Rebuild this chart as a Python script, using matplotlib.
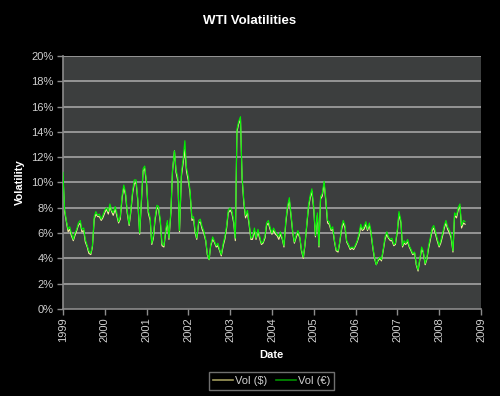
import pandas as pd
import matplotlib
matplotlib.use("Agg")
import matplotlib.pyplot as plt
import matplotlib.dates as mdates
from matplotlib.lines import Line2D
from matplotlib.ticker import FuncFormatter, MultipleLocator

plt.rcParams["font.family"] = ["Liberation Sans", "DejaVu Sans"]

# Volatilidade semi-mensal (%), por ano: Vol (EUR) e Vol (USD)
eur_1999 = [10.8, 7.9, 6.9, 6.3, 6.5, 6.0, 5.5, 6.0, 6.3, 6.8, 7.0, 6.3, 6.4, 5.5, 5.0, 4.6, 4.4, 5.0, 7.3, 7.7, 7.4, 7.5, 7.1, 7.4]
eur_2000 = [7.8, 8.0, 7.7, 8.3, 7.8, 7.6, 8.1, 7.6, 6.9, 7.3, 9.0, 9.8, 9.2, 7.8, 6.7, 7.8, 9.4, 10.2, 10.2, 8.8, 6.0, 8.5, 11.1, 11.3]
eur_2001 = [10.0, 7.8, 7.2, 5.2, 5.8, 7.2, 8.2, 8.1, 7.0, 5.2, 5.0, 6.2, 7.0, 5.6, 7.8, 11.0, 12.5, 11.0, 10.4, 6.2, 10.8, 11.8, 13.3, 11.2]
eur_2002 = [10.4, 9.4, 7.2, 7.3, 6.2, 5.6, 7.0, 7.1, 6.5, 6.2, 5.5, 4.4, 3.9, 5.1, 5.7, 5.4, 5.0, 5.2, 4.7, 4.3, 5.2, 5.7, 6.6, 7.8]
eur_2003 = [8.0, 7.8, 7.0, 5.6, 14.2, 14.8, 15.2, 10.5, 8.5, 7.4, 7.8, 6.9, 5.6, 5.7, 6.4, 5.6, 6.3, 5.8, 5.2, 5.3, 5.8, 6.8, 7.0, 6.5]
eur_2004 = [6.0, 6.4, 6.1, 5.9, 5.7, 6.1, 5.6, 5.0, 7.0, 8.1, 8.8, 7.6, 6.1, 5.3, 5.9, 6.2, 5.7, 4.7, 4.1, 5.1, 6.8, 8.2, 9.0, 9.5]
eur_2005 = [8.0, 5.8, 7.6, 5.0, 8.9, 9.1, 10.1, 8.8, 7.0, 6.9, 6.3, 6.5, 5.4, 4.7, 4.6, 5.3, 6.5, 7.0, 6.6, 5.4, 5.1, 4.8, 4.9, 4.8]
eur_2006 = [5.1, 5.4, 6.0, 6.7, 6.3, 6.5, 6.9, 6.3, 6.8, 6.2, 4.9, 4.1, 3.5, 3.9, 4.1, 3.9, 4.8, 5.7, 6.1, 5.7, 5.5, 5.6, 5.1, 5.2]
eur_2007 = [6.3, 7.7, 7.0, 5.0, 5.4, 5.2, 5.5, 5.0, 4.7, 4.4, 4.5, 3.6, 3.1, 3.9, 4.9, 4.6, 3.6, 4.0, 5.0, 5.6, 6.4, 6.6, 6.1, 5.6]
eur_2008 = [5.0, 5.4, 6.0, 6.6, 7.0, 6.5, 6.2, 5.8, 4.6, 7.6, 7.4, 8.0, 8.3, 6.6, 7.0, 6.9]

usd_1999 = [10.5, 7.7, 6.8, 6.1, 6.3, 5.8, 5.4, 5.8, 6.2, 6.6, 6.8, 6.1, 6.2, 5.3, 4.9, 4.4, 4.3, 4.9, 7.1, 7.5, 7.3, 7.3, 7.0, 7.2]
usd_2000 = [7.6, 7.9, 7.5, 8.1, 7.7, 7.4, 7.9, 7.4, 6.8, 7.1, 8.8, 9.6, 9.0, 7.6, 6.6, 7.6, 9.2, 9.9, 10.0, 8.6, 5.9, 8.3, 10.9, 11.1]
usd_2001 = [9.8, 7.6, 7.0, 5.1, 5.6, 7.0, 8.0, 7.9, 6.8, 5.0, 4.9, 6.0, 6.8, 5.5, 7.6, 10.9, 12.5, 10.8, 10.1, 6.1, 10.5, 11.5, 12.6, 10.9]
usd_2002 = [10.1, 9.2, 7.0, 7.1, 6.0, 5.5, 6.8, 6.9, 6.3, 6.0, 5.4, 4.3, 3.9, 5.0, 5.5, 5.3, 4.9, 5.0, 4.6, 4.2, 5.0, 5.5, 6.4, 7.6]
usd_2003 = [7.8, 7.6, 6.8, 5.4, 14.0, 14.6, 15.0, 10.3, 8.3, 7.2, 7.6, 6.7, 5.5, 5.5, 6.2, 5.5, 6.1, 5.6, 5.1, 5.2, 5.6, 6.6, 6.8, 6.3]
usd_2004 = [5.9, 6.2, 5.9, 5.8, 5.5, 5.9, 5.5, 4.9, 6.8, 7.9, 8.6, 7.4, 6.0, 5.2, 5.7, 6.0, 5.6, 4.6, 4.0, 5.0, 6.6, 8.0, 8.8, 9.3]
usd_2005 = [7.8, 5.7, 7.4, 4.9, 8.7, 8.9, 9.9, 8.6, 6.8, 6.7, 6.2, 6.3, 5.3, 4.6, 4.5, 5.2, 6.3, 6.8, 6.4, 5.3, 5.0, 4.7, 4.8, 4.7]
usd_2006 = [5.0, 5.3, 5.8, 6.5, 6.2, 6.3, 6.7, 6.2, 6.6, 6.0, 4.8, 4.0, 3.5, 3.8, 4.0, 3.8, 4.7, 5.5, 5.9, 5.6, 5.4, 5.4, 5.0, 5.1]
usd_2007 = [6.1, 7.5, 6.8, 4.9, 5.2, 5.1, 5.3, 4.9, 4.6, 4.3, 4.4, 3.5, 3.0, 3.8, 4.7, 4.5, 3.5, 3.9, 4.8, 5.4, 6.2, 6.4, 5.9, 5.4]
usd_2008 = [4.9, 5.2, 5.8, 6.4, 6.8, 6.3, 6.0, 5.6, 4.5, 7.4, 7.2, 7.8, 8.1, 6.4, 6.8, 6.7]

vol_eur = (eur_1999 + eur_2000 + eur_2001 + eur_2002 + eur_2003
           + eur_2004 + eur_2005 + eur_2006 + eur_2007 + eur_2008)
vol_usd = (usd_1999 + usd_2000 + usd_2001 + usd_2002 + usd_2003
           + usd_2004 + usd_2005 + usd_2006 + usd_2007 + usd_2008)

# datas: dia 1 e dia 15 de cada mes
datas = pd.date_range("1999-01-01", periods=len(vol_eur), freq="SMS")

fig = plt.figure(figsize=(5.0, 3.96), dpi=100, facecolor="black")
ax = fig.add_axes([0.126, 0.2197, 0.836, 0.639])
ax.set_facecolor("#3c3e3e")

for y in range(2, 21, 2):
    ax.axhline(y, color="#a4a4a4", linewidth=1.2, zorder=1)

ax.plot(datas, vol_usd, color="#f6f0a0", linewidth=0.8, zorder=2)
ax.plot(datas, vol_eur, color="#00f000", linewidth=0.8, zorder=3)

ax.set_ylim(0, 20)
ax.set_xlim(pd.Timestamp("1999-01-01"), pd.Timestamp("2009-01-01"))
ax.yaxis.set_major_locator(MultipleLocator(2))
ax.yaxis.set_major_formatter(FuncFormatter(lambda v, p: f"{v:.0f}%"))
ax.xaxis.set_major_locator(mdates.YearLocator())
ax.xaxis.set_major_formatter(mdates.DateFormatter("%Y"))
plt.setp(ax.xaxis.get_majorticklabels(), rotation=90)

ax.tick_params(axis="both", colors="#8c8c8c", labelcolor="#d0d0d0",
               labelsize=8, length=4, width=1, direction="out")
ax.tick_params(axis="x", pad=2)
ax.tick_params(axis="y", pad=3)

for s in ("top", "right"):
    ax.spines[s].set_visible(False)
for s in ("left", "bottom"):
    ax.spines[s].set_color("#8c8c8c")
    ax.spines[s].set_linewidth(1.2)

fig.text(0.5, 0.946, "WTI Volatilities", color="white", fontsize=9.5,
         fontweight="bold", ha="center", va="center")
fig.text(0.04, 0.54, "Volatility", color="white", fontsize=8,
         fontweight="bold", ha="center", va="center", rotation=90)
fig.text(0.543, 0.104, "Date", color="white", fontsize=8,
         fontweight="bold", ha="center", va="center")

handles = [Line2D([], [], color="#a09a5c", linewidth=1.2),
           Line2D([], [], color="#009000", linewidth=1.2)]
leg = fig.legend(handles, ["Vol ($)", "Vol (€)"], loc="center",
                 bbox_to_anchor=(0.543, 0.037), ncol=2, fontsize=8,
                 frameon=True, fancybox=False, handlelength=1.8,
                 handletextpad=0.2, columnspacing=0.8, borderpad=0.35)
leg.get_frame().set_facecolor("black")
leg.get_frame().set_edgecolor("#8c8c8c")
for t in leg.get_texts():
    t.set_color("#d0d0d0")

fig.savefig("out.png", dpi=100, facecolor="black")
